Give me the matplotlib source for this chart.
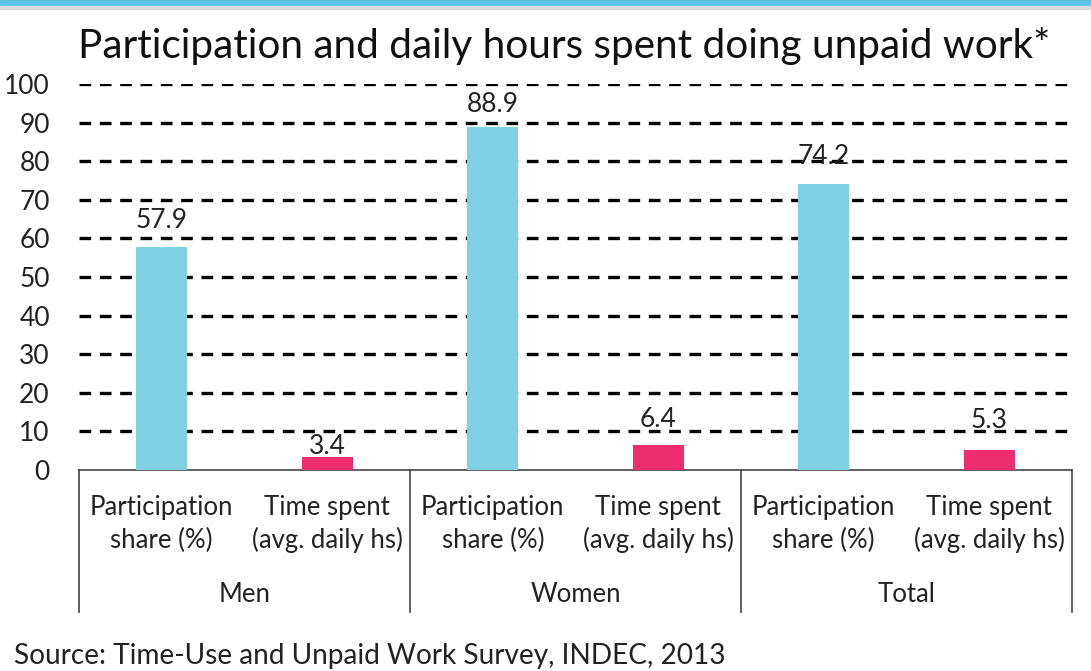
import matplotlib
matplotlib.use("Agg")
import matplotlib.pyplot as plt
from matplotlib.patches import Rectangle

groups = ["Men", "Women", "Total"]
measures = ["Participation\nshare (%)", "Time spent\n(avg. daily hs)"]
participation = [57.9, 88.9, 74.2]
time_spent = [3.4, 6.4, 5.3]
yticks = [0, 10, 20, 30, 40, 50, 60, 70, 80, 90, 100]

CYAN = "#7ed0e2"
PINK = "#ee2d71"
TXT = "#222222"
plt.rcParams["font.family"] = ["Lato", "DejaVu Sans"]

W, H = 1091, 671
fig = plt.figure(figsize=(W / 100, H / 100), dpi=100)
fig.patch.set_facecolor("white")
# top accent band
fig.patches.append(Rectangle((0, 1 - 6 / H), 1, 6 / H, transform=fig.transFigure,
                             color="#5bc2e4", zorder=0))
fig.patches.append(Rectangle((0, 1 - 9 / H), 1, 3 / H, transform=fig.transFigure,
                             color="#dcdcdc", zorder=0))

x0, x1, y0, y1 = 79, 1072, 470, 84
ax = fig.add_axes([x0 / W, (H - y0) / H, (x1 - x0) / W, (y0 - y1) / H])

xs_p = [2 * i for i in range(len(groups))]
xs_t = [2 * i + 1 for i in range(len(groups))]
bw = 0.31
ax.bar(xs_p, participation, width=bw, color=CYAN, zorder=3)
ax.bar(xs_t, time_spent, width=bw, color=PINK, zorder=3)
# label gap above each bar (pixels), as placed in the original
gaps = [19, 15, 20, 3, 18, 22]
for x, v, g in zip(xs_p + xs_t, participation + time_spent, gaps):
    ax.annotate(f"{v:.1f}", xy=(x, v), xytext=(0, g * 0.72), textcoords="offset points",
                ha="center", va="baseline", fontsize=19, color=TXT, zorder=4)

ax.set_xlim(-0.5, 2 * len(groups) - 0.5)
ax.set_ylim(0, 100)
ax.set_yticks(yticks)
ax.set_yticklabels([str(t) for t in yticks], fontsize=19, color=TXT)
ax.tick_params(axis="y", length=0, pad=21)
ax.set_xticks([])
for y in yticks[1:]:
    ax.axhline(y, color="black", lw=2.4, ls=(0, (3.5, 2.6)), zorder=1)
for s in ["top", "right", "left"]:
    ax.spines[s].set_visible(False)
ax.spines["bottom"].set_color("#444444")
ax.spines["bottom"].set_linewidth(1.2)

# multi-level category axis
tr = ax.get_xaxis_transform()
px = 1 / (y0 - y1)
for k in range(len(groups) + 1):
    ax.plot([2 * k - 0.5] * 2, [0, -142 * px], transform=tr, color="#444444",
            lw=1.2, clip_on=False)
for i, g in enumerate(groups):
    for j, m in enumerate(measures):
        ax.text(2 * i + j, -54 * px, m, transform=tr, ha="center", va="center",
                fontsize=18.5, linespacing=1.35, color=TXT)
    ax.text(2 * i + 0.5, -124 * px, g, transform=tr, ha="center", va="center",
            fontsize=18.5, color=TXT)

fig.text(564 / W, 1 - 46 / H, "Participation and daily hours spent doing unpaid work*",
         ha="center", va="center", fontsize=29.2, color="#111111")
fig.text(14 / W, 1 - 656 / H, "Source: Time-Use and Unpaid Work Survey, INDEC, 2013",
         ha="left", va="center", fontsize=20.2, color=TXT)

fig.savefig("out.png", dpi=100)
